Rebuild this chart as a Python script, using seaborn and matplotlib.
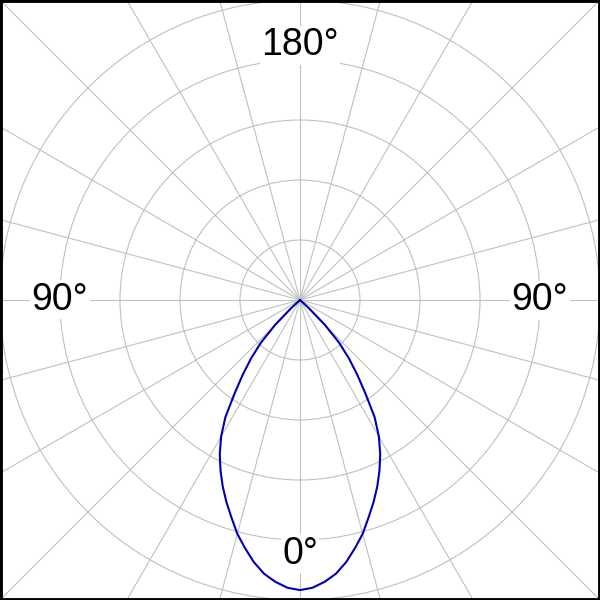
import numpy as np
import pandas as pd
import seaborn as sns
import matplotlib.pyplot as plt
from matplotlib.patches import Rectangle

# Relative intensity vs. angle from the beam axis (1.0 = outer ring)
angles_deg = [0, 2.5, 5, 7.5, 10, 12.5, 15, 17.5, 20, 22.5, 25, 27.5, 30, 32.5,
              35, 37.5, 40, 42.5, 45, 47.5, 50, 60, 70, 80, 90]
intensity = [0.967, 0.96, 0.943, 0.92, 0.887, 0.847, 0.807, 0.76, 0.717, 0.673,
             0.627, 0.579, 0.526, 0.463, 0.38, 0.313, 0.253, 0.193, 0.117, 0.04,
             0.0, 0.0, 0.0, 0.0, 0.0]

ring_values = [0.2, 0.4, 0.6, 0.8, 1.0]
label_text = ["0°", "90°", "180°", "90°"]
label_theta_deg = [0, 90, 180, -90]
label_r = [0.845, 0.80, 0.85, 0.80]

# symmetric curve: -90 .. 90
theta = np.deg2rad([-a for a in angles_deg[::-1]] + angles_deg[1:])
radius = intensity[::-1] + intensity[1:]
df = pd.DataFrame({"theta": theta, "r": radius})

sns.set_style("white")
plt.rcParams['font.family'] = ['Liberation Sans', 'DejaVu Sans']

fig = plt.figure(figsize=(6, 6), dpi=100)
s = np.sqrt(2)
ax = fig.add_axes([0.5 - s / 2, 0.5 - s / 2, s, s], projection='polar')
ax.set_theta_zero_location('S')
ax.set_rlim(0, s)
ax.spines['polar'].set_visible(False)
ax.set_rgrids(ring_values, labels=[""] * len(ring_values))
ax.set_thetagrids(np.arange(0, 360, 15), labels=[""] * 24)
ax.grid(True, color='#c0c0c0', linewidth=0.8)
ax.set_axisbelow(True)

sns.lineplot(data=df, x="theta", y="r", ax=ax, sort=False, estimator=None,
             color='#0000b4', linewidth=1.5, zorder=3)
ax.set_xlabel("")
ax.set_ylabel("")
ax.set_rlim(0, s)

for txt, t, r in zip(label_text, label_theta_deg, label_r):
    ax.text(np.deg2rad(t), r, txt, fontsize=27, ha='center', va='center',
            color='black', zorder=4,
            bbox=dict(facecolor='white', edgecolor='none', pad=1))

fig.patches.append(Rectangle((0, 0), 1, 1, transform=fig.transFigure,
                             fill=False, edgecolor='black', linewidth=3.5,
                             zorder=10))

fig.savefig("out.png", dpi=100)
